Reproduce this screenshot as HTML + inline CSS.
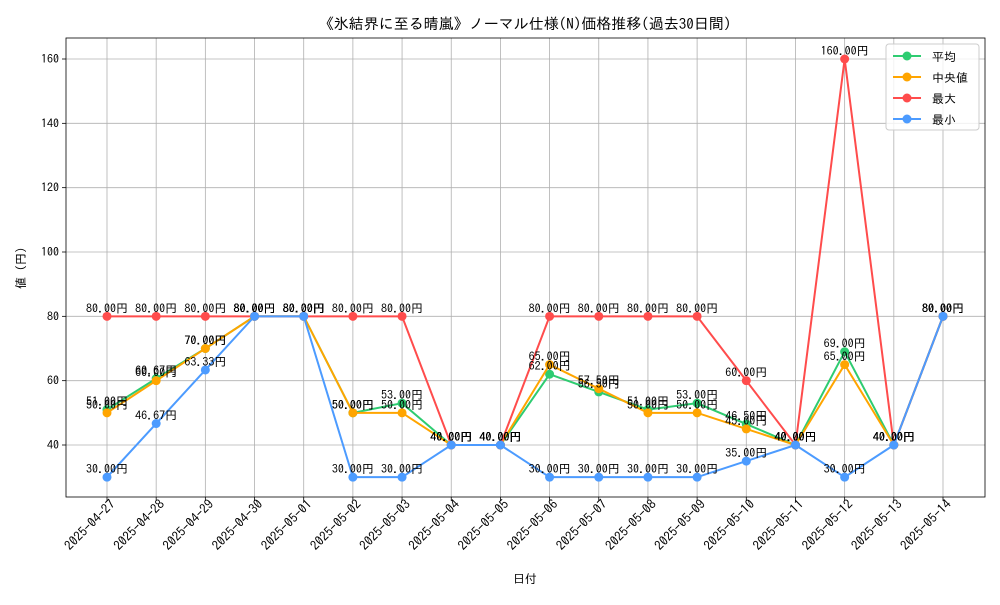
<!DOCTYPE html>
<html><head><meta charset="utf-8"><style>
body{margin:0;background:#fff;}
svg text{font-family:"IPAGothic","Noto Sans CJK JP",sans-serif;}
</style></head><body>
<svg id="c" width="1000" height="600" xmlns="http://www.w3.org/2000/svg"></svg>
<script>
const categories=["2025-04-27","2025-04-28","2025-04-29","2025-04-30","2025-05-01","2025-05-02","2025-05-03","2025-05-04","2025-05-05","2025-05-06","2025-05-07","2025-05-08","2025-05-09","2025-05-10","2025-05-11","2025-05-12","2025-05-13","2025-05-14"];
const avgValues=[51,60.67,70,80,80,50,53,40,40,62,56.5,51,53,46.5,40,69,40,80];
const medianValues=[50,60,70,80,80,50,50,40,40,65,57.5,50,50,45,40,65,40,80];
const maxValues=[80,80,80,80,80,80,80,40,40,80,80,80,80,60,40,160,40,80];
const minValues=[30,46.67,63.33,80,80,30,30,40,40,30,30,30,30,35,40,30,40,80];
const yTicks=[40,60,80,100,120,140,160];
const seriesNames=["平均","中央値","最大","最小"];

const svg=document.getElementById('c');
const NS="http://www.w3.org/2000/svg";
const L=66,R=985,T=38,B=497;
const x=i=>107+i*(943-107)/(categories.length-1);
const y=v=>445-(v-40)*(445-59)/120;
function mk(tag,attrs,parent){const e=document.createElementNS(NS,tag);for(const k in attrs)e.setAttribute(k,attrs[k]);(parent||svg).appendChild(e);return e;}

const grid=mk('g',{});


categories.forEach((c,i)=>{
  mk('line',{x1:x(i),x2:x(i),y1:T,y2:B,stroke:'#b0b0b0','stroke-width':0.8},grid);
  mk('line',{x1:x(i),x2:x(i),y1:B,y2:B+4,stroke:'#000','stroke-width':0.8});
  const t=mk('text',{x:0,y:0,'font-size':13,'text-anchor':'end',transform:`translate(${x(i)+9},${B+8}) rotate(-45)`});
  t.textContent=c;
  
  
});
yTicks.forEach(v=>{
  mk('line',{x1:L,x2:R,y1:y(v),y2:y(v),stroke:'#b0b0b0','stroke-width':0.8},grid);
  mk('line',{x1:L-4,x2:L,y1:y(v),y2:y(v),stroke:'#000','stroke-width':0.8});
  const t=mk('text',{x:L-7,y:y(v)+4,'font-size':12,'text-anchor':'end'});
  t.textContent=v;
  
  
});
const frame=mk('rect',{x:L,y:T,width:R-L,height:B-T,fill:'none',stroke:'#000','stroke-width':0.8});



const series=[[avgValues,'#2ecc71'],[medianValues,'#ffa500'],[maxValues,'#ff4c4c'],[minValues,'#4c9bff']];
series.forEach(([vals,col],si)=>{
  const g=mk('g',{});
  
  
  mk('polyline',{points:vals.map((v,i)=>x(i)+','+y(v)).join(' '),fill:'none',stroke:col,'stroke-width':2},g);
  vals.forEach((v,i)=>{
    const p=mk('circle',{cx:x(i),cy:y(v),r:4.5,fill:col},g);
    
    
  });
});
series.forEach(([vals])=>{
  vals.forEach((v,i)=>{
    const t=mk('text',{x:x(i),y:y(v)-4,'font-size':12,'text-anchor':'middle'});
    t.textContent=v.toFixed(2)+'円';
    
    
  });
});

const title=mk('text',{x:525,y:29,'font-size':15,'text-anchor':'middle'});
title.textContent='《氷結界に至る晴嵐》ノーマル仕様(N)価格推移(過去30日間)';


const xt=mk('text',{x:525,y:583,'font-size':12,'text-anchor':'middle'});
xt.textContent='日付';


const yt=mk('text',{x:0,y:0,'font-size':12,'text-anchor':'middle',transform:'translate(25,268) rotate(-90)'});
yt.textContent='値 (円)';



const lg=mk('g',{});


mk('rect',{x:886,y:44,width:93,height:86,fill:'#fff','fill-opacity':0.8,stroke:'#ccc',rx:3},lg);
series.forEach(([v,col],i)=>{
  const yy=56+i*21;
  const e=mk('g',{},lg);
  
  
  mk('line',{x1:893,x2:921,y1:yy,y2:yy,stroke:col,'stroke-width':2},e);
  mk('circle',{cx:907,cy:yy,r:4.5,fill:col},e);
  const t=mk('text',{x:932,y:yy+5,'font-size':12},e);
  t.textContent=seriesNames[i];
});
</script>
</body></html>
